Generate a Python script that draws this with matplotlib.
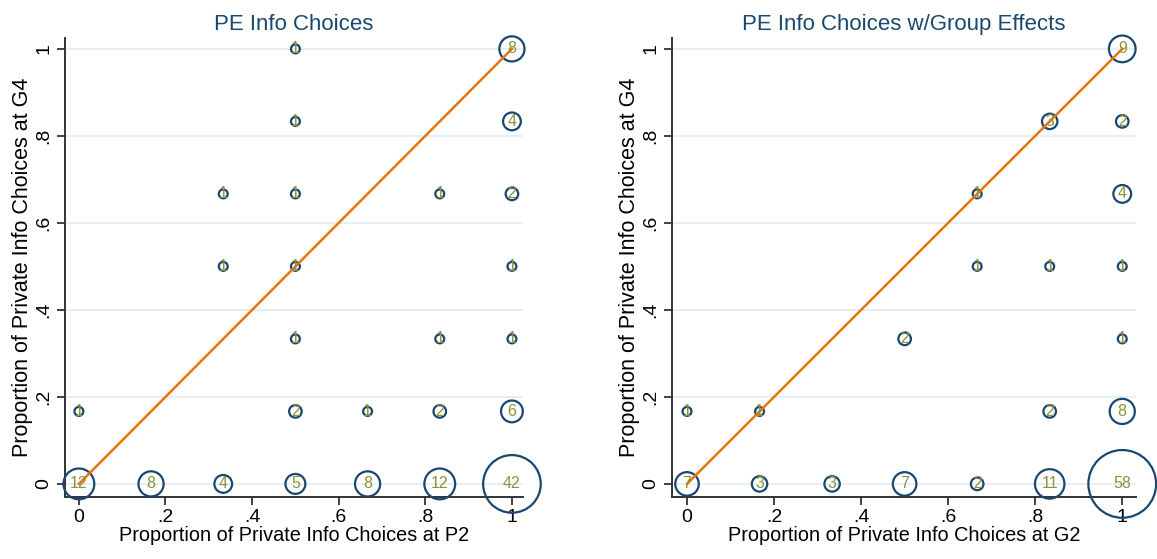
import numpy as np
import matplotlib
matplotlib.use("Agg")
import matplotlib.pyplot as plt
from matplotlib.ticker import FixedLocator, FixedFormatter

plt.rcParams['font.family'] = ['Liberation Sans', 'DejaVu Sans']

# left panel: P2 vs G4  (x, y, count)
p2_x = [0, 1/6, 1/3, 1/2, 2/3, 5/6, 1,
        0, 1/2, 2/3, 5/6, 1,
        1/2, 5/6, 1,
        1/3, 1/2, 1,
        1/3, 1/2, 5/6, 1,
        1/2, 1,
        1/2, 1]
p2_y = [0, 0, 0, 0, 0, 0, 0,
        1/6, 1/6, 1/6, 1/6, 1/6,
        1/3, 1/3, 1/3,
        1/2, 1/2, 1/2,
        2/3, 2/3, 2/3, 2/3,
        5/6, 5/6,
        1, 1]
p2_n = [12, 8, 4, 5, 8, 12, 42,
        1, 2, 1, 2, 6,
        1, 1, 1,
        1, 1, 1,
        1, 1, 1, 2,
        1, 4,
        1, 8]

# right panel: G2 vs G4 (group effects)
g2_x = [0, 1/6, 1/3, 1/2, 2/3, 5/6, 1,
        0, 1/6, 5/6, 1,
        1/2, 1,
        2/3, 5/6, 1,
        2/3, 1,
        5/6, 1,
        1]
g2_y = [0, 0, 0, 0, 0, 0, 0,
        1/6, 1/6, 1/6, 1/6,
        1/3, 1/3,
        1/2, 1/2, 1/2,
        2/3, 2/3,
        5/6, 5/6,
        1]
g2_n = [7, 3, 3, 7, 2, 11, 58,
        1, 1, 2, 8,
        2, 1,
        1, 1, 1,
        1, 4,
        3, 2,
        9]

diag_x = [0, 1]
diag_y = [0, 1]

ticks = [0, 0.2, 0.4, 0.6, 0.8, 1]
tick_labels = ['0', '.2', '.4', '.6', '.8', '1']

navy = '#1a476f'
olive = '#8f913d'
orange = '#e8750b'
gridc = '#e6eff1'

fig = plt.figure(figsize=(11.57, 5.59), dpi=100)
ax1 = fig.add_axes([0.0562, 0.111, 0.396, 0.821])
ax2 = fig.add_axes([0.581, 0.111, 0.401, 0.821])

panels = [
    (ax1, p2_x, p2_y, p2_n, 'PE Info Choices', 'Proportion of Private Info Choices at P2', (-0.032, 1.026)),
    (ax2, g2_x, g2_y, g2_n, 'PE Info Choices w/Group Effects', 'Proportion of Private Info Choices at G2', (-0.034, 1.032)),
]

for ax, xs, ys, ns, title, xlab, xl in panels:
    ax.scatter(xs, ys, s=np.array(ns) * 41, facecolors='none', edgecolors=navy,
               linewidths=1.6, zorder=3, clip_on=False)
    ax.plot(diag_x, diag_y, color=orange, lw=1.8, zorder=4)
    for x, y, n in zip(xs, ys, ns):
        ax.text(x, y, str(n), ha='center', va='center', color=olive,
                fontsize=11.5, zorder=5)
    ax.set_xlim(*xl)
    ax.set_ylim(-0.03, 1.025)
    ax.xaxis.set_major_locator(FixedLocator(ticks))
    ax.xaxis.set_major_formatter(FixedFormatter(tick_labels))
    ax.yaxis.set_major_locator(FixedLocator(ticks))
    ax.yaxis.set_major_formatter(FixedFormatter(tick_labels))
    ax.tick_params(axis='both', direction='out', length=6, width=1.3,
                   color='#333333', labelsize=14, pad=3)
    for lab in ax.get_yticklabels():
        lab.set_rotation(90)
        lab.set_va('center')
    ax.grid(axis='y', color=gridc, lw=1.4, zorder=0)
    ax.set_axisbelow(True)
    for sp in ['top', 'right']:
        ax.spines[sp].set_visible(False)
    for sp in ['left', 'bottom']:
        ax.spines[sp].set_color('#333333')
        ax.spines[sp].set_linewidth(1.4)
    ax.set_title(title, fontsize=16, color=navy, pad=6)
    ax.set_xlabel(xlab, fontsize=14.3, labelpad=0)
    ax.set_ylabel('Proportion of Private Info Choices at G4', fontsize=15.5, labelpad=2)

fig.savefig('out.png', dpi=100)
